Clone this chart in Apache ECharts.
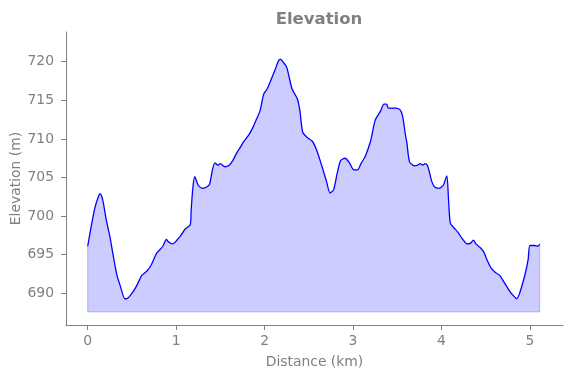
<!DOCTYPE html>
<html>
<head>
<meta charset="utf-8">
<script src="https://cdn.jsdelivr.net/npm/echarts@6/dist/echarts.min.js"></script>
<style>html,body{margin:0;padding:0;background:#fff}#c{width:571px;height:378px}</style>
</head>
<body>
<div id="c"></div>
<script>
const distances = [0.00,0.04,0.08,0.12,0.14,0.17,0.21,0.25,0.29,0.33,0.37,0.42,0.44,0.50,0.55,0.61,0.67,0.72,0.78,0.85,0.89,0.91,0.96,1.01,1.06,1.10,1.16,1.17,1.19,1.21,1.25,1.30,1.35,1.38,1.41,1.44,1.47,1.50,1.55,1.60,1.64,1.69,1.72,1.76,1.82,1.86,1.91,1.95,1.99,2.03,2.06,2.12,2.16,2.18,2.22,2.25,2.27,2.31,2.37,2.40,2.43,2.48,2.54,2.59,2.65,2.70,2.74,2.78,2.82,2.86,2.91,2.96,3.01,3.05,3.09,3.14,3.20,3.25,3.31,3.35,3.38,3.40,3.48,3.53,3.56,3.59,3.61,3.64,3.70,3.73,3.76,3.79,3.81,3.84,3.87,3.89,3.92,3.97,4.02,4.06,4.08,4.10,4.14,4.18,4.24,4.29,4.33,4.36,4.39,4.44,4.48,4.52,4.56,4.61,4.66,4.71,4.77,4.82,4.85,4.88,4.92,4.95,4.98,5.00,5.05,5.09,5.11];
const elevations = [696.1,698.7,701.0,702.5,702.9,702.1,699.5,697.4,694.8,692.4,690.9,689.3,689.3,690.0,690.9,692.3,692.9,693.7,695.2,696.1,697.0,696.7,696.4,696.9,697.6,698.3,698.9,700.8,703.8,705.1,704.0,703.6,703.8,704.2,706.0,706.9,706.6,706.8,706.4,706.6,707.2,708.3,708.8,709.6,710.5,711.3,712.6,713.7,715.8,716.5,717.3,719.0,720.2,720.3,719.8,719.3,718.4,716.5,715.2,713.6,710.9,710.2,709.7,708.5,706.4,704.5,703.0,703.4,705.5,707.2,707.5,706.9,706.0,706.0,706.8,707.8,709.8,712.4,713.6,714.5,714.5,714.0,714.0,713.8,713.0,710.7,709.4,707.0,706.5,706.6,706.8,706.6,706.8,706.6,705.4,704.5,703.8,703.6,704.0,705.2,702.1,699.1,698.5,698.0,697.0,696.4,696.5,696.9,696.4,695.9,695.3,694.2,693.3,692.7,692.3,691.4,690.3,689.6,689.3,689.9,691.4,692.7,694.4,696.2,696.2,696.1,696.4];
const xTicks = [0,1,2,3,4,5];
const yTicks = [690,695,700,705,710,715,720];
const fillBase = 687.6;
const titleText = 'Elevation';
const xName = 'Distance (km)';
const yName = 'Elevation (m)';

const lineData = distances.map((d,i)=>[d, elevations[i]]);
const last = distances.length-1;
const edgeData = [[distances[0], elevations[0]],[distances[0], fillBase],[distances[last], fillBase],[distances[last], elevations[last]]];

const font = 'DejaVu Sans';
const gray = '#808080';
const chart = echarts.init(document.getElementById('c'));
chart.setOption({
  animation:false,
  title:{text:titleText,left:314,textAlign:'center',top:6,textStyle:{fontFamily:font,fontSize:16.5,fontWeight:'bold',color:gray}},
  grid:{left:66,right:8,top:32,bottom:53,containLabel:false,outerBoundsMode:'none'},
  xAxis:{type:'value',min:-0.2453,max:5.374,
    name:xName,nameLocation:'middle',nameGap:30,nameMoveOverlap:false,nameTextStyle:{fontFamily:font,fontSize:13.9,color:gray},
    axisLine:{show:true,onZero:false,lineStyle:{color:gray,width:1}},
    axisTick:{show:true,length:5,lineStyle:{color:gray},customValues:xTicks},
    axisLabel:{fontFamily:font,fontSize:13.9,color:gray,margin:9,customValues:xTicks,formatter:v=>String(v)},
    splitLine:{show:false}},
  yAxis:{type:'value',min:685.9,max:723.85,
    name:yName,nameLocation:'middle',nameGap:43,nameMoveOverlap:false,nameTextStyle:{fontFamily:font,fontSize:13.9,color:gray},
    axisLine:{show:true,onZero:false,lineStyle:{color:gray,width:1}},
    axisTick:{show:true,length:5,lineStyle:{color:gray},customValues:yTicks},
    axisLabel:{fontFamily:font,fontSize:13.9,color:gray,margin:12,customValues:yTicks,formatter:v=>String(v)},
    splitLine:{show:false}},
  series:[
    {type:'line',data:edgeData,symbol:'none',silent:true,lineStyle:{color:'rgba(0,0,255,0.25)',width:1},z:1},
    {type:'line',data:lineData,symbol:'none',smooth:0.25,silent:true,
      lineStyle:{color:'#0000ff',width:1.3},
      areaStyle:{color:'rgba(0,0,255,0.2)',origin:fillBase,opacity:1},z:2}
  ]
});
</script>
</body>
</html>
